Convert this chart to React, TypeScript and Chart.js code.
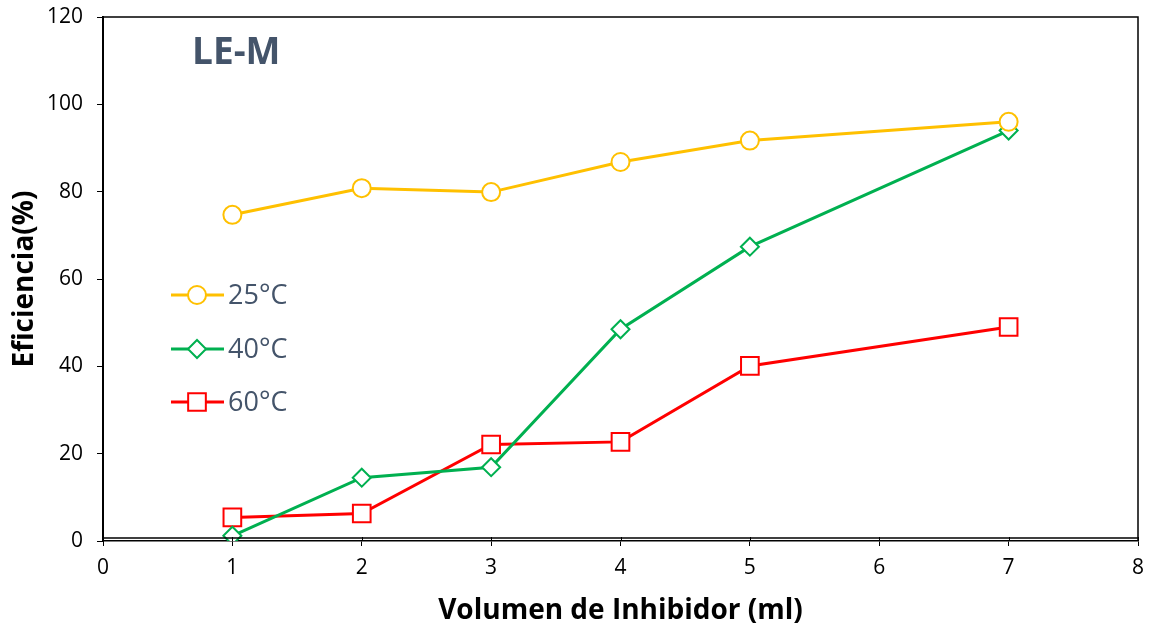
import React, { useEffect, useRef } from 'react';
import { Chart, registerables } from 'chart.js';

Chart.register(...registerables);

const xValues = [1, 2, 3, 4, 5, 7];
const series25 = [74.7, 80.8, 79.9, 86.8, 91.7, 96.0];
const series40 = [1.2, 14.5, 16.9, 48.5, 67.4, 94.0];
const series60 = [5.4, 6.3, 22.1, 22.7, 40.1, 49.0];
const seriesLabels = ['25°C', '40°C', '60°C'];
const seriesColors = ['#FFC000', '#00B050', '#FF0000'];
const seriesShapes = ['circle', 'rectRot', 'rect'];
const seriesRadii = [9, 9, 12.5];
const chartTitle = 'LE-M';
const xTitle = 'Volumen de Inhibidor (ml)';
const yTitle = 'Eficiencia(%)';

const FONT = "'Open Sans', 'DejaVu Sans', sans-serif";

function toPoints(vals: number[]) {
  return xValues.map((x, i) => ({ x, y: vals[i] }));
}

function drawMarker(ctx: CanvasRenderingContext2D, shape: string, x: number, y: number, r: number, color: string) {
  ctx.save();
  ctx.beginPath();
  if (shape === 'circle') {
    ctx.arc(x, y, r, 0, Math.PI * 2);
  } else if (shape === 'rectRot') {
    ctx.moveTo(x - r, y);
    ctx.lineTo(x, y - r);
    ctx.lineTo(x + r, y);
    ctx.lineTo(x, y + r);
    ctx.closePath();
  } else {
    const s = r * Math.SQRT1_2;
    ctx.rect(x - s, y - s, 2 * s, 2 * s);
  }
  ctx.fillStyle = '#FFFFFF';
  ctx.fill();
  ctx.lineWidth = 2;
  ctx.strokeStyle = color;
  ctx.stroke();
  ctx.restore();
}

const framePlugin = {
  id: 'framePlugin',
  afterDraw(chart: any) {
    const { ctx, chartArea } = chart;
    const { left, right, top, bottom } = chartArea;
    ctx.save();
    ctx.strokeStyle = '#000000';
    ctx.lineWidth = 1.5;
    ctx.beginPath();
    ctx.moveTo(left, top);
    ctx.lineTo(right, top);
    ctx.lineTo(right, bottom);
    ctx.moveTo(left, bottom - 3);
    ctx.lineTo(right, bottom - 3);
    ctx.stroke();
    const xs = chart.scales.x;
    ctx.lineWidth = 1;
    ctx.beginPath();
    for (let v = 0; v <= 8; v++) {
      const px = Math.round(xs.getPixelForValue(v)) + 0.5;
      ctx.moveTo(px, bottom - 4);
      ctx.lineTo(px, bottom);
    }
    ctx.stroke();

    ctx.fillStyle = '#44546A';
    ctx.font = `bold 37px ${FONT}`;
    ctx.textAlign = 'left';
    ctx.textBaseline = 'middle';
    ctx.fillText(chartTitle, left + 89, 53);

    const legendYs = [295, 349, 402];
    for (let i = 0; i < 3; i++) {
      const y = legendYs[i];
      ctx.strokeStyle = seriesColors[i];
      ctx.lineWidth = 3;
      ctx.beginPath();
      ctx.moveTo(left + 68, y);
      ctx.lineTo(left + 121, y);
      ctx.stroke();
      drawMarker(ctx, seriesShapes[i], left + 94, y, seriesRadii[i], seriesColors[i]);
      ctx.fillStyle = '#44546A';
      ctx.font = `27px ${FONT}`;
      ctx.textAlign = 'left';
      ctx.textBaseline = 'middle';
      ctx.fillText(seriesLabels[i], left + 125, y + 1);
    }
    ctx.restore();
  },
};

export default function App() {
  const canvasRef = useRef<HTMLCanvasElement>(null);

  useEffect(() => {
    document.body.style.margin = '0';
    const canvas = canvasRef.current;
    if (!canvas) return;
    const all = [series25, series40, series60];
    const chart = new Chart(canvas, {
      type: 'line',
      data: {
        datasets: all.map((vals, i) => ({
          label: seriesLabels[i],
          data: toPoints(vals),
          borderColor: seriesColors[i],
          backgroundColor: '#FFFFFF',
          borderWidth: 3,
          pointStyle: seriesShapes[i] as any,
          pointRadius: seriesRadii[i],
          pointBorderWidth: 2,
          pointBorderColor: seriesColors[i],
          pointBackgroundColor: '#FFFFFF',
          tension: 0,
          fill: false,
        })),
      },
      options: {
        animation: false,
        responsive: false,
        maintainAspectRatio: false,
        layout: { padding: { top: 17, right: 16, left: 0, bottom: 0 } },
        plugins: {
          legend: { display: false },
          tooltip: { enabled: false },
        },
        scales: {
          x: {
            type: 'linear',
            min: 0,
            max: 8,
            ticks: {
              stepSize: 1,
              color: '#000000',
              font: { family: FONT, size: 21 },
              padding: 9,
              maxRotation: 0,
            },
            grid: {
              display: true,
              drawOnChartArea: false,
              drawTicks: true,
              tickLength: 5,
              color: '#000000',
              lineWidth: 1,
            },
            border: { display: true, color: '#000000', width: 1.5 },
            title: {
              display: true,
              text: xTitle,
              color: '#000000',
              font: { family: FONT, size: 28, weight: 'bold' },
              padding: { top: 0, bottom: -2 },
            },
            afterFit(scale: any) {
              scale.height = 85;
              scale.paddingLeft = 0;
              scale.paddingRight = 0;
            },
          },
          y: {
            type: 'linear',
            min: 0,
            max: 120,
            ticks: {
              stepSize: 20,
              color: '#000000',
              font: { family: FONT, size: 21 },
              padding: 14,
            },
            grid: {
              display: true,
              drawOnChartArea: false,
              drawTicks: true,
              tickLength: 6,
              color: '#000000',
              lineWidth: 1,
            },
            border: { display: true, color: '#000000', width: 2 },
            title: {
              display: true,
              text: yTitle,
              color: '#000000',
              font: { family: FONT, size: 28, weight: 'bold' },
              padding: { top: 8, bottom: 0 },
            },
            afterFit(scale: any) {
              scale.width = 103;
              scale.paddingTop = 0;
              scale.paddingBottom = 0;
            },
          },
        },
      },
      plugins: [framePlugin],
    });
    return () => chart.destroy();
  }, []);

  return (
    <div style={{ position: 'absolute', left: 0, top: 0, width: 1154, height: 626, background: '#FFFFFF' }}>
      <canvas ref={canvasRef} width={1154} height={626} style={{ width: 1154, height: 626, display: 'block' }} />
    </div>
  );
}
